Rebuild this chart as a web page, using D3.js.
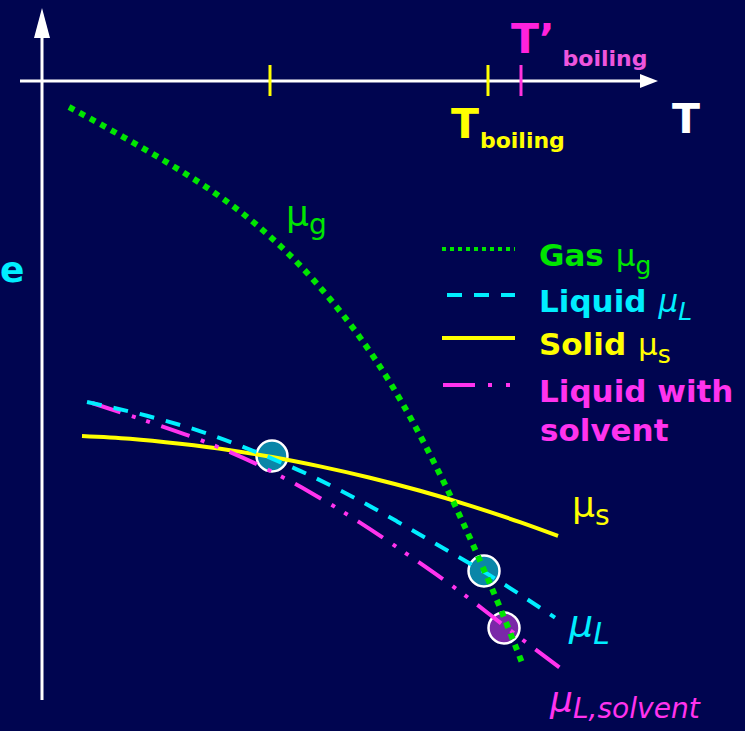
<!DOCTYPE html>
<html>
<head>
<meta charset="utf-8">
<script src="https://cdn.jsdelivr.net/npm/d3@7"></script>
<style>
  body { margin: 0; background: #000550; }
  svg { display: block; }
  text { font-family: "Comic Sans MS", "DejaVu Sans", sans-serif; }
</style>
</head>
<body>
<div id="chart"></div>
<script>
// temperature (arbitrary units) and free energy (arbitrary units, negative downwards)
var gasT = [13.5, 40.5, 61.5, 82, 99, 115.5, 129, 144, 159, 174, 186.5, 199, 210.5, 220.5, 229, 240.5];
var gasG = [-13, -27.9, -40.1, -53, -65.2, -79.1, -92.2, -109, -128.2, -150.7, -172.5, -196.7, -220.8, -243.3, -263.3, -292.1];

var liquidT = [22.5, 52.5, 80, 105.5, 132.5, 154, 177.5, 196.5, 221, 256.5];
var liquidG = [-160.5, -167.4, -175.4, -184.9, -196.5, -207.2, -220.2, -231.2, -245.4, -268.3];

var solidT = [20, 44, 69, 94, 115, 139, 164, 189, 214, 239, 258];
var solidG = [-177.5, -178.9, -181.4, -184.6, -188, -192.7, -198.4, -204.9, -212.3, -220.6, -227.5];

var solventT = [25, 54, 82.5, 110.5, 134, 159, 184, 209, 234, 262.5];
var solventG = [-161, -170.6, -180.8, -193.1, -205.6, -220.8, -237.6, -255.3, -274.6, -296];

// crossing points
var crossT = [115, 221, 231];
var crossG = [-187.5, -245, -273.5];

// temperature ticks on the axis
var tickT = [114, 223, 239.5];

var W = 745, H = 731;

var x = d3.scaleLinear().domain([0, 320]).range([42, 682]);
var y = d3.scaleLinear().domain([0, -320]).range([81, 721]);

var svg = d3.select("#chart").append("svg")
    .attr("width", W)
    .attr("height", H);

svg.append("rect").attr("width", W).attr("height", H).attr("fill", "#000550");

// axes
svg.append("line")
    .attr("x1", x(0)).attr("x2", x(0))
    .attr("y1", y(-309.5)).attr("y2", y(22))
    .attr("stroke", "#fff").attr("stroke-width", 3);
svg.append("path")
    .attr("d", "M" + x(0) + "," + y(36.5) + "L" + (x(0) - 8) + "," + y(21.5) + "L" + (x(0) + 8) + "," + y(21.5) + "Z")
    .attr("fill", "#fff");

svg.append("line")
    .attr("x1", x(-11)).attr("x2", x(300))
    .attr("y1", y(0)).attr("y2", y(0))
    .attr("stroke", "#fff").attr("stroke-width", 3);
svg.append("path")
    .attr("d", "M" + x(308) + "," + y(0) + "L" + x(299) + "," + (y(0) - 7) + "L" + x(299) + "," + (y(0) + 7) + "Z")
    .attr("fill", "#fff");

var tickColor = ["#ffff00", "#ffff00", "#ff33dd"];
svg.selectAll(".tick")
    .data(tickT)
    .enter().append("line")
    .attr("class", "tick")
    .attr("x1", function(d) { return x(d); })
    .attr("x2", function(d) { return x(d); })
    .attr("y1", y(0) - 16).attr("y2", y(0) + 15)
    .attr("stroke", function(d, i) { return tickColor[i]; })
    .attr("stroke-width", 3);

// crossing circles (under the curves)
var crossFill = ["#0a86a8", "#0a86a8", "#7a28a8"];
svg.selectAll(".cross")
    .data(crossT)
    .enter().append("circle")
    .attr("class", "cross")
    .attr("cx", function(d) { return x(d); })
    .attr("cy", function(d, i) { return y(crossG[i]); })
    .attr("r", 15.5)
    .attr("fill", function(d, i) { return crossFill[i]; })
    .attr("stroke", "#fff")
    .attr("stroke-width", 2.5);

// curves
var line = d3.line()
    .x(function(d) { return x(d[0]); })
    .y(function(d) { return y(d[1]); })
    .curve(d3.curveMonotoneX);

function zip(a, b) { return a.map(function(v, i) { return [v, b[i]]; }); }

svg.append("path")
    .datum(zip(solidT, solidG))
    .attr("d", line)
    .attr("fill", "none")
    .attr("stroke", "#ffff00")
    .attr("stroke-width", 4);

svg.append("path")
    .datum(zip(solventT, solventG))
    .attr("d", line)
    .attr("fill", "none")
    .attr("stroke", "#ff33ee")
    .attr("stroke-width", 4)
    .attr("stroke-dasharray", "30,12,4,11,4,12");

svg.append("path")
    .datum(zip(liquidT, liquidG))
    .attr("d", line)
    .attr("fill", "none")
    .attr("stroke", "#00eeff")
    .attr("stroke-width", 4)
    .attr("stroke-dasharray", "15,12");

svg.append("path")
    .datum(zip(gasT, gasG))
    .attr("d", line)
    .attr("fill", "none")
    .attr("stroke", "#00e600")
    .attr("stroke-width", 6)
    .attr("stroke-dasharray", "6,6");

// labels
function label(t, px, py, size, color, weight, style) {
    return svg.append("text")
        .attr("x", px).attr("y", py)
        .attr("font-size", size)
        .attr("fill", color)
        .attr("font-weight", weight || "normal")
        .attr("font-style", style || "normal")
        .text(t);
}

label("T", 672, 133, 41, "#ffffff", "bold");
label("e", 0, 282, 36, "#00eeff", "bold");

var tb = label("T", 451, 138, 41, "#ffff00", "bold");
tb.append("tspan").attr("font-size", 22).attr("dx", 1).attr("dy", 10).text("boiling");

var tp = label("T\u2019", 511, 53, 41, "#ff22dd", "bold");
tp.append("tspan").attr("font-size", 22).attr("fill", "#ee55dd").attr("dx", 8).attr("dy", 13).text("boiling");

function mu(px, py, sub, color, size, italic, dy) {
    var t = label("\u03bc", px, py, size, color, "normal", italic ? "italic" : "normal");
    t.append("tspan").attr("font-size", size * 0.78).attr("dy", dy || 8).text(sub);
    return t;
}

mu(286, 226, "g", "#00e600", 36, false);
mu(572, 517, "s", "#ffff00", 36, false);
mu(569, 636, "L", "#00eeff", 38, true);
mu(550, 712, "L,solvent", "#ff33ee", 36, true, 6);

// legend
var legend = [
    {name: "Gas", sub: "g", color: "#00e600", dash: "4,4", width: 4, italic: false},
    {name: "Liquid", sub: "L", color: "#00eeff", dash: "15,12", width: 4, italic: true},
    {name: "Solid", sub: "s", color: "#ffff00", dash: null, width: 4, italic: false},
    {name: "Liquid with", sub: null, color: "#ff33ee", dash: "32,13,4,14,4,20", width: 4, italic: false}
];
var legendY = [249, 295, 338, 385];
var legendX0 = [442, 447, 442, 443];

legend.forEach(function(d, i) {
    svg.append("line")
        .attr("x1", legendX0[i]).attr("x2", 515)
        .attr("y1", legendY[i]).attr("y2", legendY[i])
        .attr("stroke", d.color)
        .attr("stroke-width", d.width)
        .attr("stroke-dasharray", d.dash);
    var t = label(d.name, 539, legendY[i] + 17, 31, d.color, "bold");
    if (d.sub) {
        t.append("tspan").attr("dx", 12).attr("font-weight", "normal")
            .attr("font-style", d.italic ? "italic" : "normal").text("\u03bc");
        t.append("tspan").attr("font-weight", "normal").attr("font-size", 25).attr("dy", 8)
            .attr("font-style", d.italic ? "italic" : "normal").text(d.sub);
    }
});
label("solvent", 540, 441, 31, "#ff33ee", "bold");
</script>
</body>
</html>
